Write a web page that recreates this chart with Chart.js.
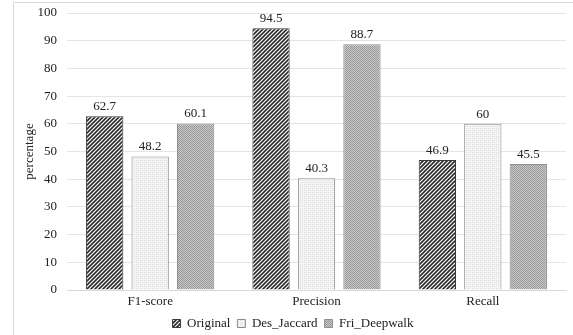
<!DOCTYPE html>
<html>
<head>
<meta charset="utf-8">
<script src="https://cdn.jsdelivr.net/npm/chart.js@4/dist/chart.umd.min.js"></script>
<style>
  html, body { margin: 0; padding: 0; background: #fff; }
  #wrap { width: 573px; height: 335px; position: relative; }
</style>
</head>
<body>
<div id="wrap"><canvas id="c"></canvas></div>
<script>
// chart values
var categories = ["F1-score", "Precision", "Recall"];
var original = [62.7, 94.5, 46.9];
var desJaccard = [48.2, 40.3, 60];
var friDeepwalk = [60.1, 88.7, 45.5];
var yTicks = [0, 10, 20, 30, 40, 50, 60, 70, 80, 90, 100];

// fill patterns that look like the old office hatch fills
function makePattern(kind) {
    var tile = document.createElement("canvas");
    var g = tile.getContext("2d");
    if (kind === "hatch") {
        tile.width = 4; tile.height = 4;
        g.fillStyle = "#ffffff";
        g.fillRect(0, 0, 4, 4);
        g.strokeStyle = "#2a2a2a";
        g.lineWidth = 1.6;
        g.beginPath();
        g.moveTo(-1, 5); g.lineTo(5, -1);
        g.moveTo(-1, 1); g.lineTo(1, -1);
        g.moveTo(3, 5); g.lineTo(5, 3);
        g.stroke();
    } else if (kind === "light") {
        tile.width = 4; tile.height = 4;
        g.fillStyle = "#f5f5f5";
        g.fillRect(0, 0, 4, 4);
        g.fillStyle = "#d6d6d6";
        g.fillRect(0, 0, 1, 1);
        g.fillRect(2, 2, 1, 1);
        g.fillStyle = "#e6e6e6";
        g.fillRect(2, 0, 1, 1);
        g.fillRect(0, 2, 1, 1);
    } else {
        tile.width = 2; tile.height = 2;
        g.fillStyle = "#c8c8c8";
        g.fillRect(0, 0, 2, 2);
        g.fillStyle = "#999999";
        g.fillRect(0, 0, 1, 1);
        g.fillRect(1, 1, 1, 1);
    }
    return g.createPattern(tile, "repeat");
}

var valueLabels = {
    id: "valueLabels",
    afterDatasetsDraw: function(chart) {
        var ctx = chart.ctx;
        ctx.save();
        ctx.font = "13px 'Liberation Serif', 'Times New Roman', serif";
        ctx.fillStyle = "#222";
        ctx.textAlign = "center";
        ctx.textBaseline = "bottom";
        chart.data.datasets.forEach(function(ds, i) {
            chart.getDatasetMeta(i).data.forEach(function(bar, j) {
                ctx.fillText(String(ds.data[j]), bar.x, bar.y - 3);
            });
        });
        ctx.restore();
    }
};

var frame = {
    id: "frame",
    beforeDraw: function(chart) {
        var ctx = chart.ctx;
        ctx.save();
        ctx.fillStyle = "#fff";
        ctx.fillRect(0, 0, chart.width, chart.height);
        ctx.strokeStyle = "#d9d9d9";
        ctx.lineWidth = 1;
        ctx.beginPath();
        ctx.moveTo(13.5, chart.height);
        ctx.lineTo(13.5, 2.5);
        ctx.lineTo(chart.width, 2.5);
        ctx.stroke();
        ctx.restore();
    }
};

var serif = "'Liberation Serif', 'Times New Roman', serif";

new Chart(document.getElementById("c"), {
    type: "bar",
    data: {
        labels: categories,
        datasets: [
            { label: "Original", data: original, backgroundColor: makePattern("hatch"), borderColor: "#3a3a3a", borderWidth: 1 },
            { label: "Des_Jaccard", data: desJaccard, backgroundColor: makePattern("light"), borderColor: "#8a8a8a", borderWidth: 1 },
            { label: "Fri_Deepwalk", data: friDeepwalk, backgroundColor: makePattern("mid"), borderColor: "#8f8f8f", borderWidth: 1 }
        ]
    },
    options: {
        responsive: true,
        maintainAspectRatio: false,
        animation: false,
        categoryPercentage: 0.82,
        barPercentage: 0.82,
        layout: { padding: { left: 20, right: 7, top: 13, bottom: -5 } },
        plugins: {
            tooltip: { enabled: false },
            legend: {
                position: "bottom",
                labels: {
                    font: { family: serif, size: 13 },
                    color: "#222",
                    boxWidth: 8,
                    boxHeight: 8,
                    padding: 7
                }
            }
        },
        scales: {
            x: {
                grid: { display: false, drawTicks: false },
                border: { color: "#d9d9d9" },
                ticks: { font: { family: serif, size: 13 }, color: "#222", padding: 4 },
                afterFit: function(scale) { scale.height = 20; }
            },
            y: {
                min: 0,
                max: 100,
                afterBuildTicks: function(scale) {
                    scale.ticks = yTicks.map(function(v) { return { value: v }; });
                },
                afterFit: function(scale) {
                    scale.width = 47;
                    scale.paddingTop = 0;
                    scale.paddingBottom = 0;
                },
                grid: { color: "#e4e4e4", drawTicks: false },
                border: { display: false },
                ticks: { font: { family: serif, size: 13 }, color: "#222", padding: 10 },
                title: { display: true, text: "percentage", font: { family: serif, size: 13 }, color: "#222", padding: 2 }
            }
        }
    },
    plugins: [frame, valueLabels]
});
</script>
</body>
</html>
